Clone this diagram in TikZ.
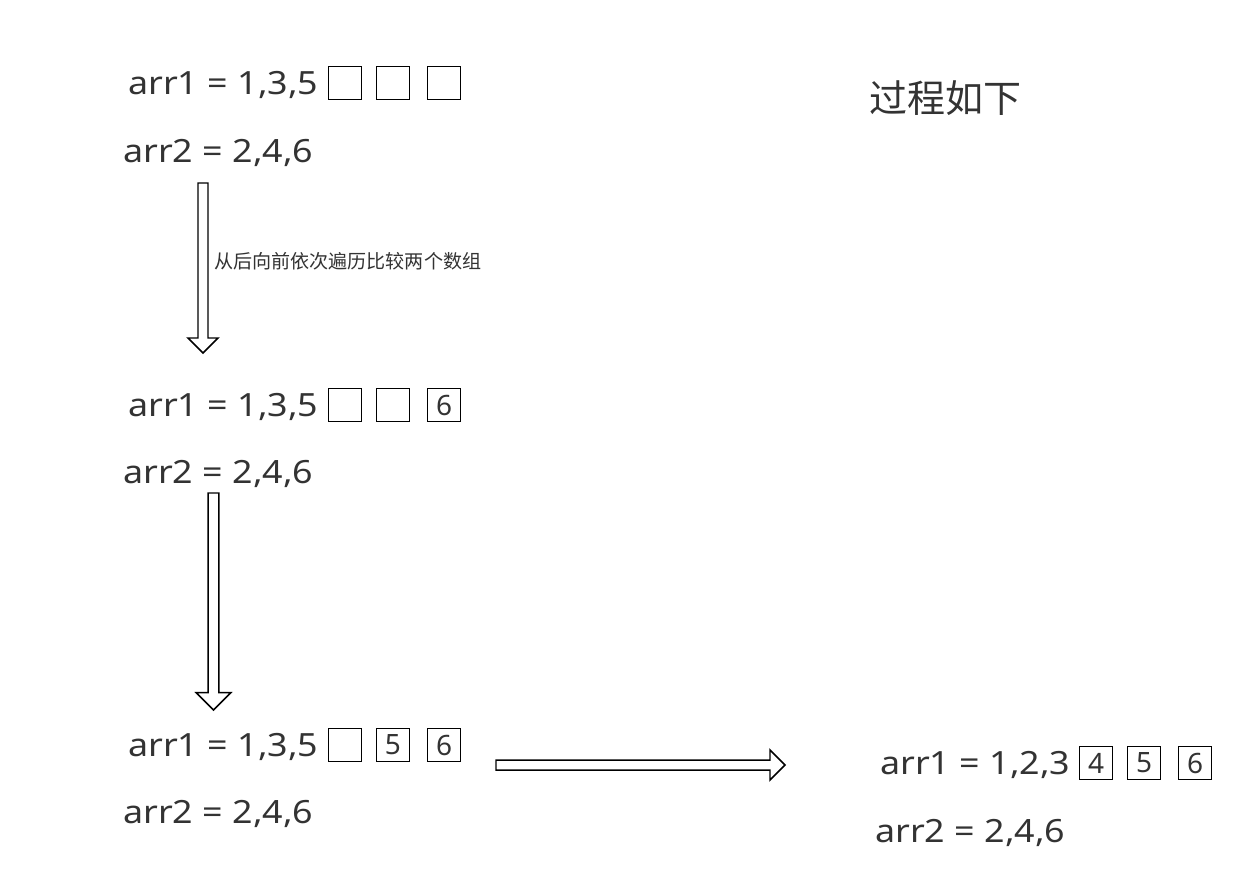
\documentclass[tikz,border=0pt]{standalone}
\usepackage{fontspec}
\setmainfont{Noto Sans}[FakeStretch=1.12]
\newfontfamily\cellfont{Noto Sans}
\newfontfamily\cjk{Noto Sans CJK SC}
\usetikzlibrary{calc}
\definecolor{ink}{HTML}{333333}

\tikzset{
  arr/.style={anchor=west, inner sep=0pt, text=ink, font=\fontsize{24}{29}\selectfont},
  cell/.style={draw=black, line width=1.3pt, minimum size=24.75pt, inner sep=0pt, text=ink, font=\cellfont\fontsize{21}{25}\selectfont},
  fat/.style 2 args={draw=black, line width=1.1pt, fill=white, line join=miter,
    to path={($(\tikztostart)!#1!90:(\tikztotarget)$)
      -- ($($(\tikztotarget)!#2!(\tikztostart)$)!#1!90:(\tikztotarget)$)
      -- ($($(\tikztotarget)!#2!(\tikztostart)$)!#2!90:(\tikztotarget)$)
      -- (\tikztotarget)
      -- ($($(\tikztotarget)!#2!(\tikztostart)$)!#2!-90:(\tikztotarget)$)
      -- ($($(\tikztotarget)!#2!(\tikztostart)$)!#1!-90:(\tikztotarget)$)
      -- ($(\tikztostart)!#1!-90:(\tikztotarget)$) -- cycle}}
}

\begin{document}
\begin{tikzpicture}[x=0.75pt, y=-0.75pt]
    \fill[white] (0,0) rectangle (1244,879);
    \useasboundingbox (0,0) rectangle (1244,879);

    % Title
    \node[anchor=west, inner sep=0pt, text=ink, font=\cjk\fontsize{28.5}{32}\selectfont] (title) at (869,98) {过程如下};

    % Step 1: empty slots
    \node[arr] (r1a) at (128,85) {arr1 = 1,3,5};
    \node[arr] (r1b) at (123,153) {arr2 = 2,4,6};
    \node[cell] (r1c1) at (345,83) {};
    \node[cell] (r1c2) at (393,83) {};
    \node[cell] (r1c3) at (444,83) {};

    % Step 2: 6 placed
    \node[arr] (r2a) at (128,407) {arr1 = 1,3,5};
    \node[arr] (r2b) at (123,474) {arr2 = 2,4,6};
    \node[cell] (r2c1) at (345,405) {};
    \node[cell] (r2c2) at (393,405) {};
    \node[cell] (r2c3) at (444,405) {6};

    % Step 3: 5 and 6 placed
    \node[arr] (r3a) at (128,747) {arr1 = 1,3,5};
    \node[arr] (r3b) at (123,814) {arr2 = 2,4,6};
    \node[cell] (r3c1) at (345,745) {};
    \node[cell] (r3c2) at (393,745) {5};
    \node[cell] (r3c3) at (444,745) {6};

    % Result
    \node[arr] (r4a) at (880,765) {arr1 = 1,2,3};
    \node[arr] (r4b) at (875,833) {arr2 = 2,4,6};
    \node[cell] (r4c1) at (1096,763) {4};
    \node[cell] (r4c2) at (1144,763) {5};
    \node[cell] (r4c3) at (1195,763) {6};

    % Hollow arrows
    \coordinate (a1s) at (203,183);
    \coordinate (a1e) at (203,353);
    \coordinate (a2s) at (213.5,493);
    \coordinate (a2e) at (213.5,710);
    \coordinate (a3s) at (496,765);
    \coordinate (a3e) at (785,765);
    \draw[fat={3.75pt}{11.25pt}] (a1s) to (a1e);
    \draw[fat={4.1pt}{13pt}] (a2s) to (a2e);
    \draw[fat={3.75pt}{11.25pt}] (a3s) to (a3e);

    \node[anchor=west, inner sep=0pt, text=ink, font=\cjk\fontsize{14.3}{17}\selectfont] (step) at (214,261) {从后向前依次遍历比较两个数组};
\end{tikzpicture}
\end{document}
